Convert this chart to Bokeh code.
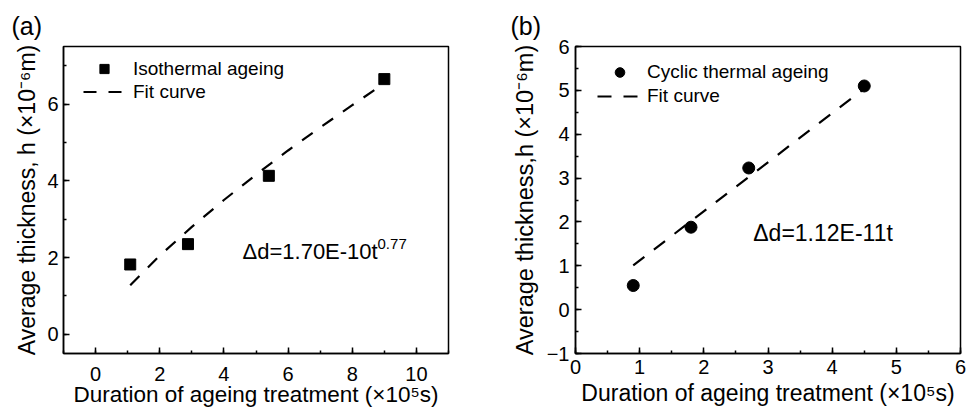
from bokeh.plotting import figure
from bokeh.layouts import row
from bokeh.models import Label, SingleIntervalTicker, Range1d, Legend, LegendItem
from bokeh.embed import file_html
from bokeh.resources import INLINE

FONT = "Liberation Sans"

# ---------------- data: panel (a) isothermal ageing ----------------
iso_x = [1.08, 2.88, 5.40, 9.00]          # x10^5 s
iso_y = [1.82, 2.35, 4.13, 6.65]          # x10^-6 m
fit_a_x = [1.08, 2.0, 3.0, 4.0, 5.0, 6.0, 7.0, 8.0, 9.0]
fit_a_y = [1.28, 2.05, 2.80, 3.50, 4.16, 4.79, 5.39, 5.97, 6.54]
xticks_a_interval = 2
yticks_a_interval = 2

# ---------------- data: panel (b) cyclic thermal ageing ----------------
cyc_x = [0.90, 1.80, 2.70, 4.50]
cyc_y = [0.55, 1.88, 3.23, 5.10]
fit_b_x = [0.90, 4.50]
fit_b_y = [1.01, 5.04]
xticks_b_interval = 1
yticks_b_interval = 1

XLABEL = "Duration of ageing treatment (\u00d710\u2075s)"
YLABEL_A = "Average thickness, h (\u00d710\u207b\u2076m)"
YLABEL_B = "Average thickness,h (\u00d710\u207b\u2076m)"


def style_fig(p, xint, yint, xlabel_size, ylabel_size, xl_standoff, xa_standoff,
              yl_standoff, ya_standoff):
    p.xgrid.visible = False
    p.ygrid.visible = False
    p.outline_line_color = "black"
    p.outline_line_width = 1.5
    p.outline_line_alpha = 1.0
    p.xaxis.ticker = SingleIntervalTicker(interval=xint, num_minor_ticks=2)
    p.yaxis.ticker = SingleIntervalTicker(interval=yint, num_minor_ticks=2)
    for ax in (p.xaxis[0], p.yaxis[0]):
        ax.axis_line_color = "black"
        ax.axis_line_width = 1.5
        ax.major_tick_line_color = "black"
        ax.minor_tick_line_color = "black"
        ax.major_tick_line_width = 1.5
        ax.minor_tick_line_width = 1.5
        ax.major_tick_in = 6
        ax.major_tick_out = 0
        ax.minor_tick_in = 3
        ax.minor_tick_out = 0
        ax.major_label_text_font = FONT
        ax.major_label_text_font_size = "20px"
        ax.major_label_text_color = "black"
        ax.axis_label_text_font = FONT
        ax.axis_label_text_font_style = "normal"
        ax.axis_label_text_color = "black"
    p.xaxis.axis_label_text_font_size = xlabel_size
    p.yaxis.axis_label_text_font_size = ylabel_size
    p.xaxis.major_label_standoff = xl_standoff
    p.xaxis.axis_label_standoff = xa_standoff
    p.yaxis.major_label_standoff = yl_standoff
    p.yaxis.axis_label_standoff = ya_standoff
    p.title.text_font = FONT
    p.title.text_font_size = "25px"
    p.title.text_font_style = "normal"
    p.title.text_color = "black"
    p.title.align = "left"


def add_text(p, text, x, y, size, **kw):
    p.add_layout(Label(x=x, y=y, text=text, text_font=FONT, text_font_size=size,
                       text_baseline="alphabetic", text_color="black", **kw))


TOP, BOTTOM = 46, 62

# ---------------- figure (a) ----------------
pa = figure(width=490, height=415, output_backend="svg", toolbar_location=None,
            x_range=Range1d(-1, 11), y_range=Range1d(-0.5, 7.5),
            min_border_left=63, min_border_right=42, min_border_top=TOP, min_border_bottom=BOTTOM,
            title="(a)", x_axis_label=XLABEL, y_axis_label=YLABEL_A)
style_fig(pa, xticks_a_interval, yticks_a_interval, "22.5px", "23px", 13, -2, 5, 4)
pa.title.offset = -52
pa.title.standoff = 13

ln_a = pa.line(fit_a_x, fit_a_y, line_color="black", line_width=2.2, line_dash="13 12")
sq_a = pa.scatter(iso_x, iso_y, marker="square", size=11, fill_color="black", line_color="black")

leg_a = Legend(items=[LegendItem(label="Isothermal ageing", renderers=[sq_a]),
                      LegendItem(label="Fit curve", renderers=[ln_a])],
               location=(20, 250), margin=0, padding=0, spacing=0,
               glyph_width=42, glyph_height=23, label_height=23, label_standoff=8,
               label_text_font=FONT, label_text_font_size="19px", label_text_color="black",
               border_line_alpha=0, background_fill_alpha=0)
pa.add_layout(leg_a)

ANN_A_X, ANN_A_Y = 4.58, 2.15
add_text(pa, "\u0394d=1.70E-10t", ANN_A_X, ANN_A_Y, "22px")
add_text(pa, "0.77", ANN_A_X, ANN_A_Y, "15px", x_offset=135, y_offset=8)

# ---------------- figure (b) ----------------
pb = figure(width=485, height=415, output_backend="svg", toolbar_location=None,
            x_range=Range1d(0, 6), y_range=Range1d(-1, 6),
            min_border_left=85, min_border_right=15, min_border_top=TOP, min_border_bottom=BOTTOM,
            title="(b)", x_axis_label=XLABEL, y_axis_label=YLABEL_B)
style_fig(pb, xticks_b_interval, yticks_b_interval, "23px", "23.5px", 6, 3, 6, 6)
pb.title.offset = -65
pb.title.standoff = 13

ln_b = pb.line(fit_b_x, fit_b_y, line_color="black", line_width=2.2, line_dash="14 12")
ci_b = pb.scatter(cyc_x, cyc_y, marker="circle", size=12, fill_color="black", line_color="black")

leg_b = Legend(items=[LegendItem(label="Cyclic thermal ageing", renderers=[ci_b]),
                      LegendItem(label="Fit curve", renderers=[ln_b])],
               location=(22, 245), margin=0, padding=0, spacing=0,
               glyph_width=45, glyph_height=24, label_height=24, label_standoff=5,
               label_text_font=FONT, label_text_font_size="19px", label_text_color="black",
               border_line_alpha=0, background_fill_alpha=0)
pb.add_layout(leg_b)

ANN_B_X, ANN_B_Y = 2.77, 1.745
add_text(pb, "\u0394d=1.12E-11t", ANN_B_X, ANN_B_Y, "23px")

layout = row(pa, pb)
open("out.html", "w").write(file_html(layout, INLINE))
